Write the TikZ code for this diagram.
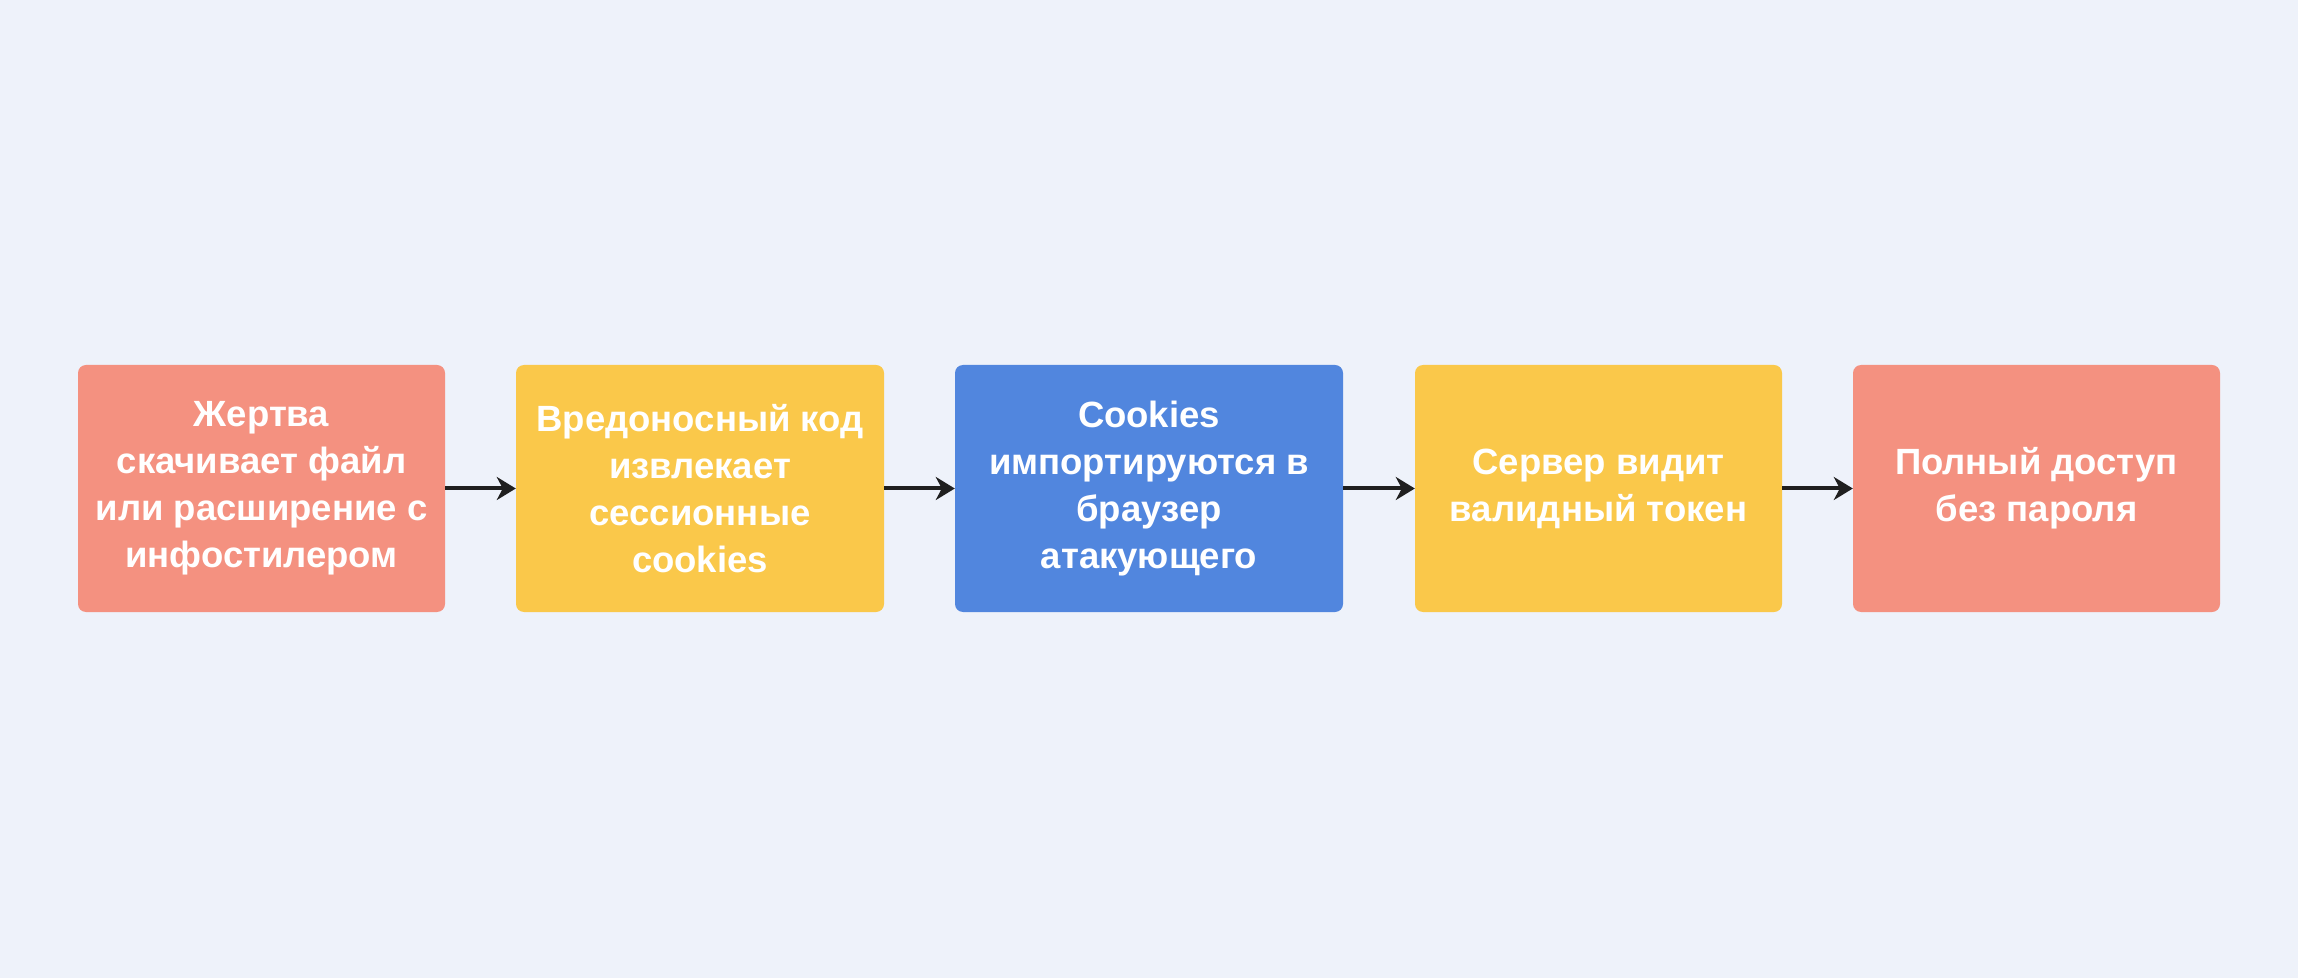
\documentclass[tikz,border=0pt]{standalone}
\usepackage{fontspec}
\setmainfont{Liberation Sans}
\usetikzlibrary{arrows.meta}
\definecolor{bgc}{HTML}{EEF2FA}
\definecolor{salmon}{HTML}{F49180}
\definecolor{yell}{HTML}{FAC84A}
\definecolor{blu}{HTML}{5186DE}
\definecolor{arr}{HTML}{1F1F1F}
\tikzset{
  card/.style={rounded corners=8pt, minimum height=247pt, inner sep=0pt, align=center, text=white,
    font=\fontsize{36.5}{47}\selectfont\bfseries},
  flow/.style={draw=arr, line width=4pt, -{Stealth[length=19pt,width=23pt,inset=6pt]}}
}
\begin{document}
\begin{tikzpicture}[x=1pt,y=1pt]
\fill[bgc] (0,0) rectangle (2298,978);
\useasboundingbox (0,0) rectangle (2298,978);
\node[card, fill=salmon, minimum width=367pt] (a) at (261.5,489.5) {Жертва\\скачивает файл\\или расширение с\\инфостилером};
\node[card, fill=yell, minimum width=368pt] (b) at (700,489.5) {Вредоносный код\\извлекает\\сессионные\\cookies};
\node[card, fill=blu, minimum width=388pt] (c) at (1149,489.5) {Cookies\\импортируются в\\браузер\\атакующего};
\node[card, fill=yell, minimum width=367pt] (d) at (1598.5,489.5) {Сервер видит\\валидный токен};
\node[card, fill=salmon, minimum width=367pt] (e) at (2036.5,489.5) {Полный доступ\\без пароля};
\draw[flow] (a) -- (b);
\draw[flow] (b) -- (c);
\draw[flow] (c) -- (d);
\draw[flow] (d) -- (e);
\end{tikzpicture}
\end{document}
